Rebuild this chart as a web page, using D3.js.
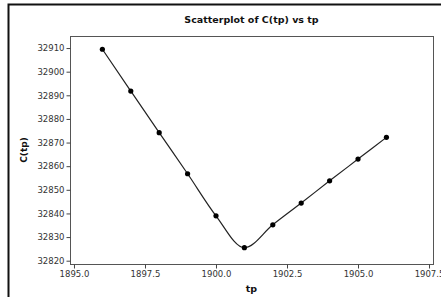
<!DOCTYPE html>
<html>
<head>
<meta charset="utf-8">
<script src="https://cdn.jsdelivr.net/npm/d3@7"></script>
<style>
  html, body { margin: 0; padding: 0; background: #fff; overflow: hidden; }
  svg { display: block; font-family: "DejaVu Sans", Verdana, sans-serif; }
</style>
</head>
<body>
<svg id="chart" width="441" height="297"></svg>
<script>
// ── Data ─────────────────────────────────
const tp  = [1896, 1897, 1898, 1899, 1900, 1901, 1902, 1903, 1904, 1905, 1906];
const Ctp = [32909.5, 32891.8, 32874.2, 32856.8, 32839.0, 32825.5, 32835.2, 32844.4, 32853.8, 32863.0, 32872.2];

const xTicks = [1895, 1897.5, 1900, 1902.5, 1905, 1907.5];
const yTicks = [32820, 32830, 32840, 32850, 32860, 32870, 32880, 32890, 32900, 32910];

// ── Layout ───────────────────────────────
const plot = { left: 70, top: 36, right: 433, bottom: 264 };

const svg = d3.select('#chart');

// outer frame (runs off the right / bottom edge)
svg.append('path')
  .attr('d', 'M8.5,297 V4.5 H441')
  .attr('fill', 'none')
  .attr('stroke', '#111')
  .attr('stroke-width', 2);

const x = d3.scaleLinear().domain([1894.86, 1907.64]).range([plot.left, plot.right]);
const y = d3.scaleLinear().domain([32818.6, 32915.1]).range([plot.bottom, plot.top]);

// plot border
svg.append('rect')
  .attr('x', plot.left + 0.5).attr('y', plot.top + 0.5)
  .attr('width', plot.right - plot.left).attr('height', plot.bottom - plot.top)
  .attr('fill', 'none')
  .attr('stroke', '#555')
  .attr('stroke-width', 1);

// ── Axes ─────────────────────────────────
const xAxis = d3.axisBottom(x)
  .tickValues(xTicks)
  .tickFormat(d3.format('.1f'))
  .tickSizeOuter(0)
  .tickSize(4)
  .tickPadding(2);

const yAxis = d3.axisLeft(y)
  .tickValues(yTicks)
  .tickFormat(d3.format('d'))
  .tickSizeOuter(0)
  .tickSize(4)
  .tickPadding(2);

const gx = svg.append('g')
  .attr('transform', `translate(0,${plot.bottom + 0.5})`)
  .call(xAxis);
const gy = svg.append('g')
  .attr('transform', `translate(${plot.left + 0.5},0)`)
  .call(yAxis);

[gx, gy].forEach(g => {
  g.select('.domain').remove();
  g.selectAll('.tick line').attr('stroke', '#444');
  g.selectAll('.tick text')
    .attr('fill', '#333')
    .style('font-size', '8.5px')
    .style('font-family', '"DejaVu Sans", Verdana, sans-serif');
});

// ── Line + points ────────────────────────
const pts = tp.map((t, i) => ({ t, c: Ctp[i] }));

svg.append('path')
  .datum(pts)
  .attr('fill', 'none')
  .attr('stroke', '#222')
  .attr('stroke-width', 1.2)
  .attr('d', d3.line().x(d => x(d.t)).y(d => y(d.c)).curve(d3.curveMonotoneX));

svg.append('g').selectAll('circle')
  .data(pts)
  .join('circle')
  .attr('cx', d => x(d.t))
  .attr('cy', d => y(d.c))
  .attr('r', 2.6)
  .attr('fill', '#000');

// ── Text ─────────────────────────────────
svg.append('text')
  .attr('x', (plot.left + plot.right) / 2)
  .attr('y', 23)
  .attr('text-anchor', 'middle')
  .style('font-size', '9.5px')
  .style('font-weight', 'bold')
  .attr('fill', '#111')
  .text('Scatterplot of C(tp) vs tp');

svg.append('text')
  .attr('x', (plot.left + plot.right) / 2)
  .attr('y', 292)
  .attr('text-anchor', 'middle')
  .style('font-size', '9.5px')
  .style('font-weight', 'bold')
  .attr('fill', '#111')
  .text('tp');

svg.append('text')
  .attr('transform', `translate(27,${(plot.top + plot.bottom) / 2}) rotate(-90)`)
  .attr('text-anchor', 'middle')
  .style('font-size', '9px')
  .style('font-weight', 'bold')
  .attr('fill', '#111')
  .text('C(tp)');
</script>
</body>
</html>
